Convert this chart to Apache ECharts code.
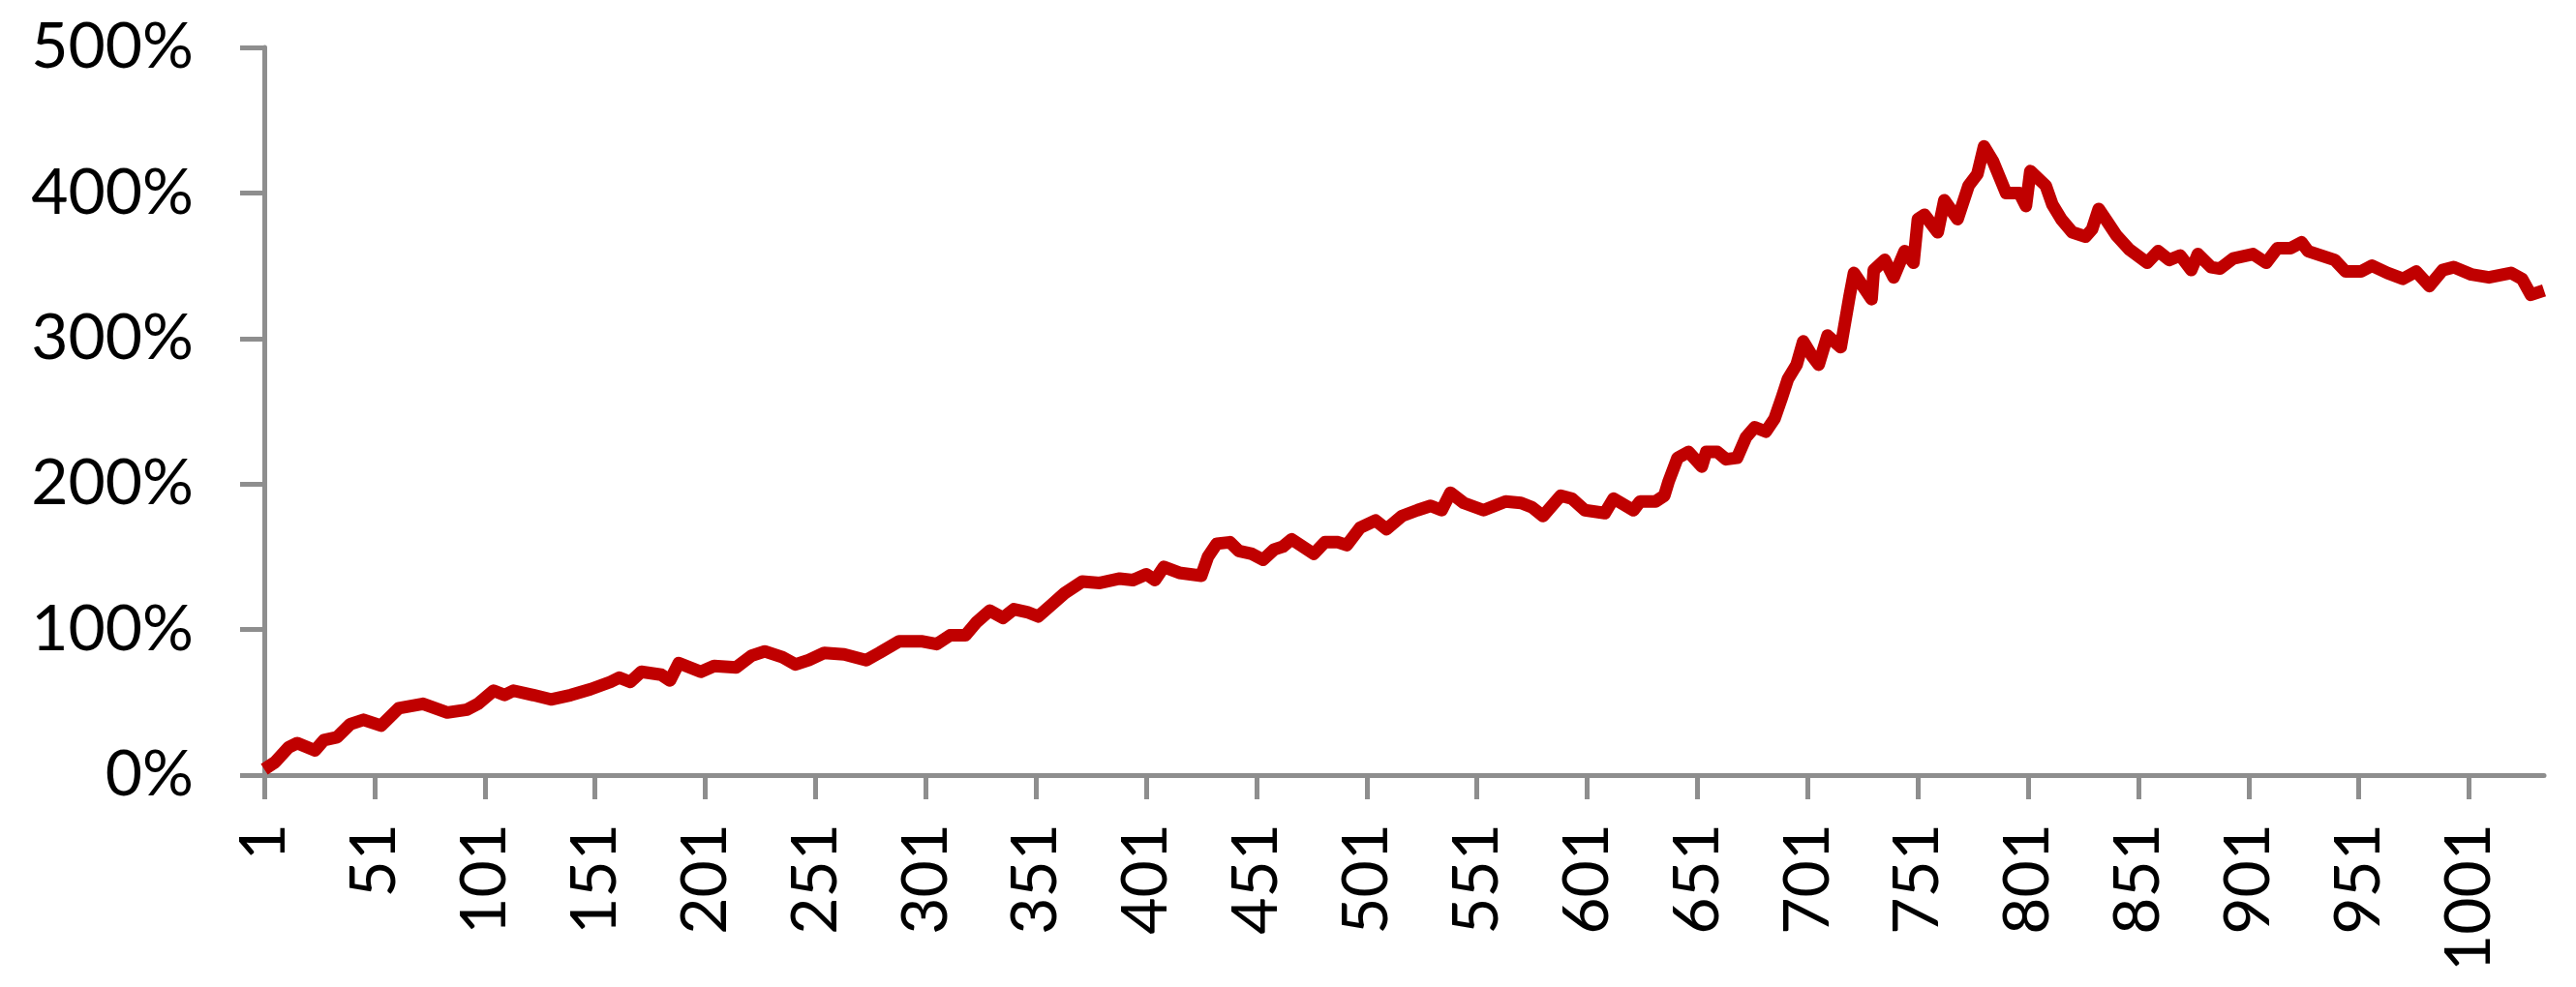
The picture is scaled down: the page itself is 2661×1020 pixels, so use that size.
<!DOCTYPE html>
<html><head><meta charset="utf-8">
<script src="https://cdn.jsdelivr.net/npm/echarts@6/dist/echarts.min.js"></script>
<style>html,body{margin:0;padding:0;background:#fff}#c{width:2661px;height:1020px}</style>
</head><body><div id="c"></div>
<script>
const N_CATEGORIES = 1035;
const categories = [];
for (let i = 1; i <= N_CATEGORIES; i++) categories.push(String(i));
const yTicks = [0, 100, 200, 300, 400, 500];
const sampleCats = [1,6,12,16,24,28,34,40,46,54,62,73,84,93,98,105,110,114,123,131,140,149,158,162,167,172,181,185,189,199,205,215,222,228,236,242,248,255,264,274,280,289,299,306,312,319,324,330,336,341,347,352,358,364,372,380,389,395,401,405,409,416,426,429,433,439,443,449,454,459,463,467,477,482,488,492,498,505,510,517,524,530,535,539,545,554,564,571,576,581,589,594,600,609,613,622,625,632,636,638,642,647,653,655,660,664,669,673,677,682,686,689,692,696,699,703,706,710,716,720,722,730,731,736,740,745,749,751,754,760,763,769,774,778,781,785,791,797,800,802,809,812,816,821,827,830,833,837,841,847,855,860,865,870,875,878,884,888,894,903,909,914,920,925,928,934,940,945,952,957,964,971,977,983,989,994,1002,1010,1020,1025,1029,1033,1035];
const sampleVals = [4,9,19,22,17,24,26,35,38,34,46,49,43,45,49,58,55,58,55,52,55,59,64,67,64,71,69,65,77,71,75,74,82,85,81,76,79,84,83,79,84,92,92,90,96,96,105,113,108,114,112,109,117,125,133,132,135,134,138,134,143,139,137,150,159,160,154,152,148,155,157,162,152,160,160,158,170,175,169,178,182,185,182,194,187,182,188,187,184,178,192,190,182,180,190,182,188,188,192,202,218,222,212,222,222,217,218,232,239,236,245,258,272,282,298,288,282,302,294,329,345,327,347,354,342,360,352,382,385,373,395,382,405,413,432,422,400,400,391,415,405,392,382,373,370,375,389,380,371,361,352,360,354,357,347,358,349,348,355,358,352,362,362,366,360,357,354,346,346,350,345,341,346,336,347,349,344,342,345,341,330,332,333];

const seriesData = sampleCats.map((c, i) => [c - 1, sampleVals[i]]);
const axisGray = '#8e8e8e';
const FONT = 'Lato';
const chart = echarts.init(document.getElementById('c'));
chart.setOption({
  animation: false,
  grid: { left: 273, right: 33, top: 49, bottom: 219, containLabel: false },
  xAxis: {
    type: 'category', data: categories, boundaryGap: false,
    axisLine: { show: true, lineStyle: { color: axisGray, width: 5 } },
    axisTick: { show: true, interval: 49, length: 25, lineStyle: { color: axisGray, width: 5 } },
    axisLabel: { interval: 49, rotate: 90, margin: 50, fontSize: 66, fontFamily: FONT, color: '#000' },
    splitLine: { show: false }
  },
  yAxis: {
    type: 'value', min: yTicks[0], max: yTicks[yTicks.length - 1], interval: 100,
    axisLine: { show: true, lineStyle: { color: axisGray, width: 5 } },
    axisTick: { show: true, length: 25, lineStyle: { color: axisGray, width: 5 } },
    axisLabel: { margin: 73, fontSize: 66, fontFamily: FONT, color: '#000', formatter: '{value}%' },
    splitLine: { show: false }
  },
  series: [{
    type: 'line', data: seriesData, showSymbol: false, symbol: 'none',
    lineStyle: { color: '#C00000', width: 13, join: 'round' },
    itemStyle: { color: '#C00000' }
  }]
});
</script></body></html>
